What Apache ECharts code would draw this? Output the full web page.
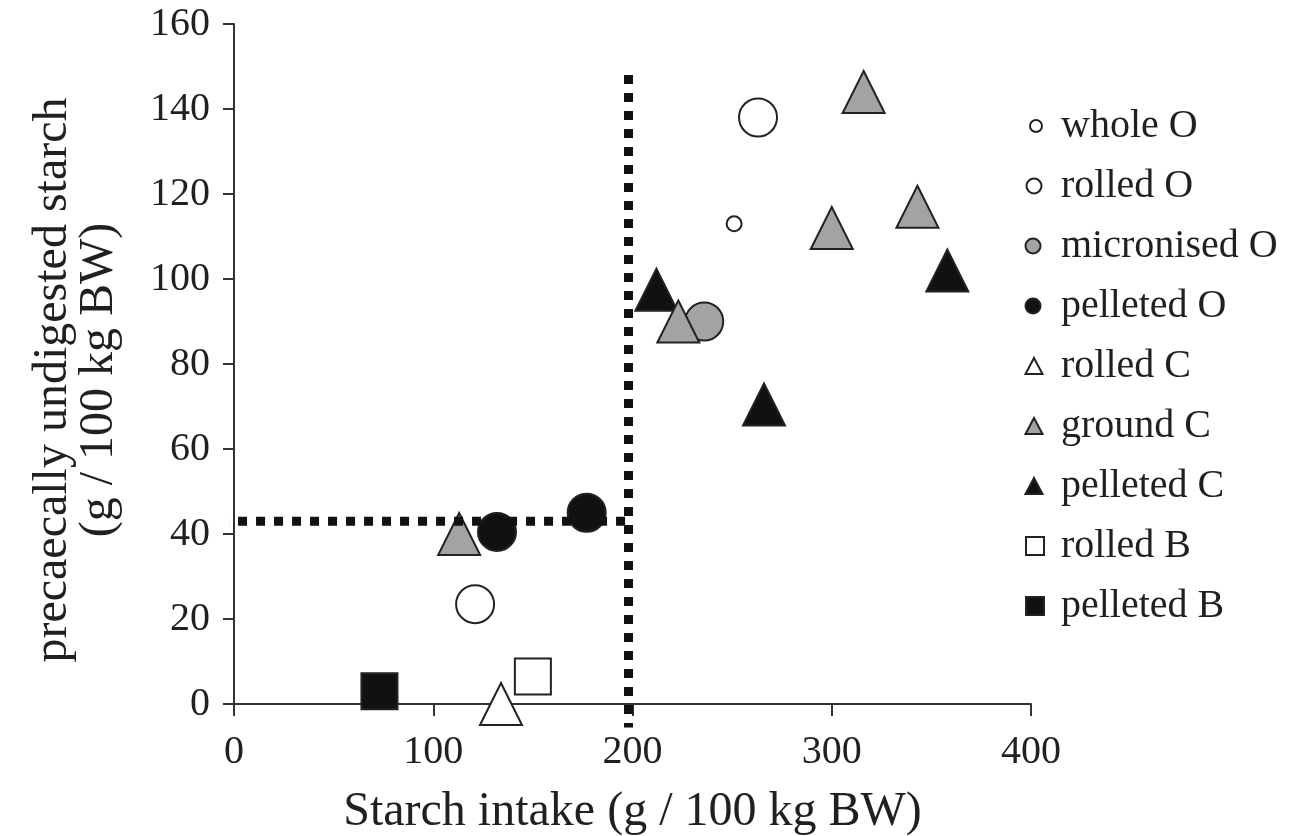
<!DOCTYPE html>
<html>
<head>
<meta charset="utf-8">
<script src="https://cdn.jsdelivr.net/npm/echarts@6/dist/echarts.min.js"></script>
<style>
html,body{margin:0;padding:0;background:#fff;}
#chart{width:1312px;height:836px;}
</style>
</head>
<body>
<div id="chart"></div>
<script>
// ---- data ----
const xTicks = [0, 100, 200, 300, 400];
const yTicks = [0, 20, 40, 60, 80, 100, 120, 140, 160];
const xTitle = 'Starch intake (g / 100 kg BW)';
const yTitle = 'precaecally undigested starch\n(g / 100 kg BW)';

const seriesNames = ['whole O', 'rolled O', 'micronised O', 'pelleted O', 'rolled C', 'ground C', 'pelleted C', 'rolled B', 'pelleted B'];
const wholeO = [[251, 113]];
const rolledO = [[263, 138], [121, 23.5]];
const micronisedO = [[236, 90]];
const pelletedO = [[132, 40.5], [177, 45]];
const rolledC = [[134, 0]];
const groundC = [[316, 144], [300, 112], [343, 117], [223, 90], [113, 40]];
const pelletedC = [[358, 102], [212, 97.5], [266, 70.5]];
const rolledB = [[150, 6.5]];
const pelletedB = [[73, 3]];

// threshold lines
const vLine = [[198, 148], [198, -5.5]];
const hLine = [[-7, 43], [198, 43]];

// ---- styles ----
const GRAY = '#a3a3a3', BLACK = '#111111', EDGE = '#222222', WHITE = '#ffffff';
const FONT = '"Liberation Serif", "Times New Roman", serif';
const TXT = '#231f20';

const styleMap = {
  'whole O':      {data: wholeO,      symbol: 'circle',   size: 15,       fill: WHITE, legend: [12, 12], cx: 1035},
  'rolled O':     {data: rolledO,     symbol: 'circle',   size: 38,       fill: WHITE, legend: [15, 15], cx: 1033},
  'micronised O': {data: micronisedO, symbol: 'circle',   size: 38,       fill: GRAY,  legend: [15, 15], cx: 1032},
  'pelleted O':   {data: pelletedO,   symbol: 'circle',   size: 38,       fill: BLACK, legend: [15, 15], cx: 1032},
  'rolled C':     {data: rolledC,     symbol: 'triangle', size: [42, 42], fill: WHITE, legend: [17, 16], cx: 1033},
  'ground C':     {data: groundC,     symbol: 'triangle', size: [42, 42], fill: GRAY,  legend: [17, 16], cx: 1033},
  'pelleted C':   {data: pelletedC,   symbol: 'triangle', size: [42, 42], fill: BLACK, legend: [17, 16], cx: 1033},
  'rolled B':     {data: rolledB,     symbol: 'rect',     size: 36,       fill: WHITE, legend: [18, 18], cx: 1034},
  'pelleted B':   {data: pelletedB,   symbol: 'rect',     size: 36,       fill: BLACK, legend: [18, 18], cx: 1034}
};
const zOrder = {'ground C': 4, 'micronised O': 2, 'pelleted C': 3};

const series = seriesNames.map(name => {
  const s = styleMap[name];
  return {
    name: name,
    type: 'scatter',
    data: s.data,
    symbol: s.symbol,
    symbolSize: s.size,
    z: zOrder[name] || 3,
    itemStyle: {color: s.fill, borderColor: EDGE, borderWidth: 2, opacity: 1},
    emphasis: {disabled: true}
  };
});

const dotted = {color: BLACK, width: 9, type: [9, 9], cap: 'butt'};
series.push({
  type: 'line', data: vLine, symbol: 'none', clip: false, z: 10, silent: true,
  lineStyle: dotted
});
series.push({
  type: 'line', data: hLine, symbol: 'none', clip: false, z: 10, silent: true,
  lineStyle: dotted
});

const LEG_TEXT_X = 1060, LEG_TOP = 126, LEG_STEP = 60, LEG_LH = 40;
const legends = seriesNames.map((name, i) => {
  const s = styleMap[name];
  const w = s.legend[0], h = s.legend[1];
  const left = s.cx - w / 2;
  const padLeft = LEG_TEXT_X - (left + w + 5);
  return {
    data: [name],
    orient: 'vertical',
    left: left,
    top: LEG_TOP + i * LEG_STEP - LEG_LH / 2,
    padding: 0,
    itemWidth: w,
    itemHeight: h,
    selectedMode: false,
    textStyle: {fontFamily: FONT, fontSize: 40, color: TXT, lineHeight: LEG_LH, padding: [0, 0, 0, padLeft]}
  };
});

const chart = echarts.init(document.getElementById('chart'), null, {renderer: 'canvas'});
chart.setOption({
  animation: false,
  backgroundColor: '#fff',
  grid: {left: 234, right: 281, top: 24, bottom: 132, containLabel: false, outerBoundsMode: 'none'},
  legend: legends,
  xAxis: {
    type: 'value',
    min: xTicks[0], max: xTicks[xTicks.length - 1], interval: xTicks[1] - xTicks[0],
    name: xTitle, nameLocation: 'middle', nameGap: 84,
    nameTextStyle: {fontFamily: FONT, fontSize: 48, color: TXT},
    axisLine: {show: true, lineStyle: {color: '#333', width: 2}},
    axisTick: {show: true, inside: false, length: 12, lineStyle: {color: '#333', width: 2}},
    axisLabel: {fontFamily: FONT, fontSize: 40, color: TXT, margin: 28},
    splitLine: {show: false}
  },
  yAxis: {
    type: 'value',
    min: yTicks[0], max: yTicks[yTicks.length - 1], interval: yTicks[1] - yTicks[0],
    name: yTitle, nameLocation: 'middle', nameGap: 112, nameRotate: 90,
    nameTextStyle: {fontFamily: FONT, fontSize: 48, color: TXT, lineHeight: 46, align: 'center', padding: [0, 32, 0, 0]},
    axisLine: {show: true, lineStyle: {color: '#333', width: 2}},
    axisTick: {show: true, inside: false, length: 11, lineStyle: {color: '#333', width: 2}},
    axisLabel: {fontFamily: FONT, fontSize: 40, color: TXT, margin: 24},
    splitLine: {show: false}
  },
  series: series
});
</script>
</body>
</html>
